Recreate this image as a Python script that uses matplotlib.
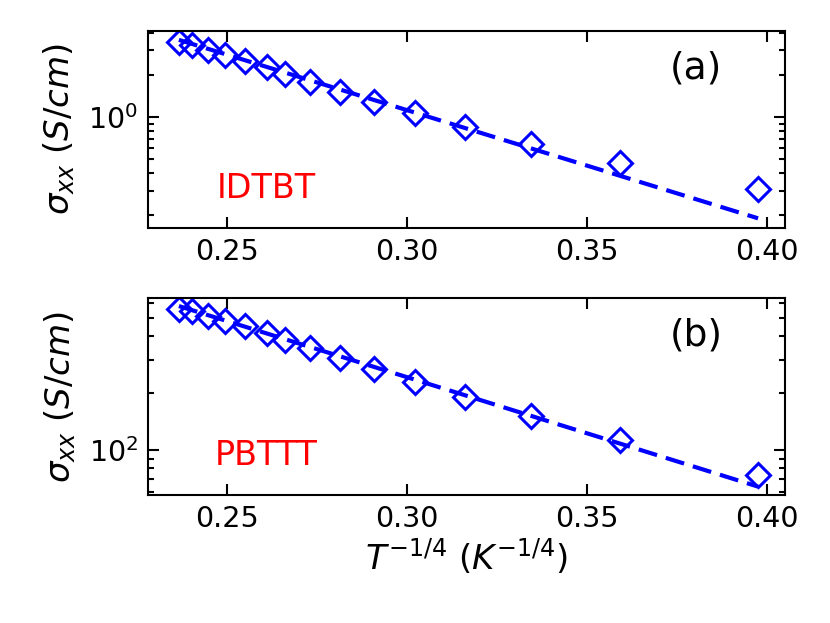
import matplotlib
matplotlib.use("Agg")
import matplotlib.pyplot as plt
from matplotlib.ticker import NullFormatter

# T^-1/4 values (K^-1/4)
x_vals = [0.2365, 0.2402, 0.2446, 0.2494, 0.2549, 0.2609, 0.2659, 0.2729,
          0.2812, 0.2908, 0.3021, 0.3162, 0.3344, 0.3593, 0.3976]

# conductivity, S/cm
sigma_idtbt = [3.47, 3.28, 3.03, 2.79, 2.52, 2.28, 2.03, 1.78,
               1.52, 1.29, 1.07, 0.857, 0.645, 0.469, 0.308]
sigma_pbttt = [559, 542, 512, 480, 451, 418, 384, 347,
               308, 269, 230, 191, 152, 113, 73.7]

# fit lines (end points)
fit_x = [0.2365, 0.3976]
fit_idtbt = [3.57, 0.190]
fit_pbttt = [578, 64.0]

panels = [
    ("(a)", "IDTBT", sigma_idtbt, fit_idtbt, (0.162, 4.15)),
    ("(b)", "PBTTT", sigma_pbttt, fit_pbttt, (57.8, 635)),
]

fig = plt.figure(figsize=(8.3, 6.23), dpi=100)
boxes = [[0.1783, 0.634, 0.7675, 0.3167], [0.1783, 0.2055, 0.7675, 0.3156]]

for (tag, name, sig, fit, ylim), box in zip(panels, boxes):
    ax = fig.add_axes(box)
    ax.plot(x_vals, sig, linestyle="none", marker="D", markersize=12.5,
            markerfacecolor="none", markeredgecolor="blue", markeredgewidth=2.2)
    ax.plot(fit_x, fit, color="blue", linestyle="--", linewidth=3,
            dashes=(4.6, 2.2))
    ax.set_yscale("log")
    ax.set_xlim(0.2279, 0.4051)
    ax.set_ylim(*ylim)
    ax.set_xticks([0.25, 0.30, 0.35, 0.40])
    ax.set_xticklabels(["0.25", "0.30", "0.35", "0.40"])
    ax.yaxis.set_minor_formatter(NullFormatter())
    ax.tick_params(which="both", direction="in", top=True, right=True,
                   width=1.5, labelsize=20.5, pad=7)
    ax.tick_params(which="major", length=8)
    ax.tick_params(which="minor", length=4.3)
    for sp in ax.spines.values():
        sp.set_linewidth(1.5)
    ax.set_ylabel(r"$\sigma_{xx}$ $(S/cm)$", fontsize=24.5, labelpad=8)
    ax.text(0.86, 0.81, tag, transform=ax.transAxes, fontsize=27,
            ha="center", va="center")
    ax.text(0.185, 0.20, name, transform=ax.transAxes, fontsize=24,
            color="red", ha="center", va="center")

ax.set_xlabel(r"$T^{-1/4}$ $(K^{-1/4})$", fontsize=24.5, labelpad=3)
fig.align_ylabels()

plt.savefig("out.png", dpi=100)
